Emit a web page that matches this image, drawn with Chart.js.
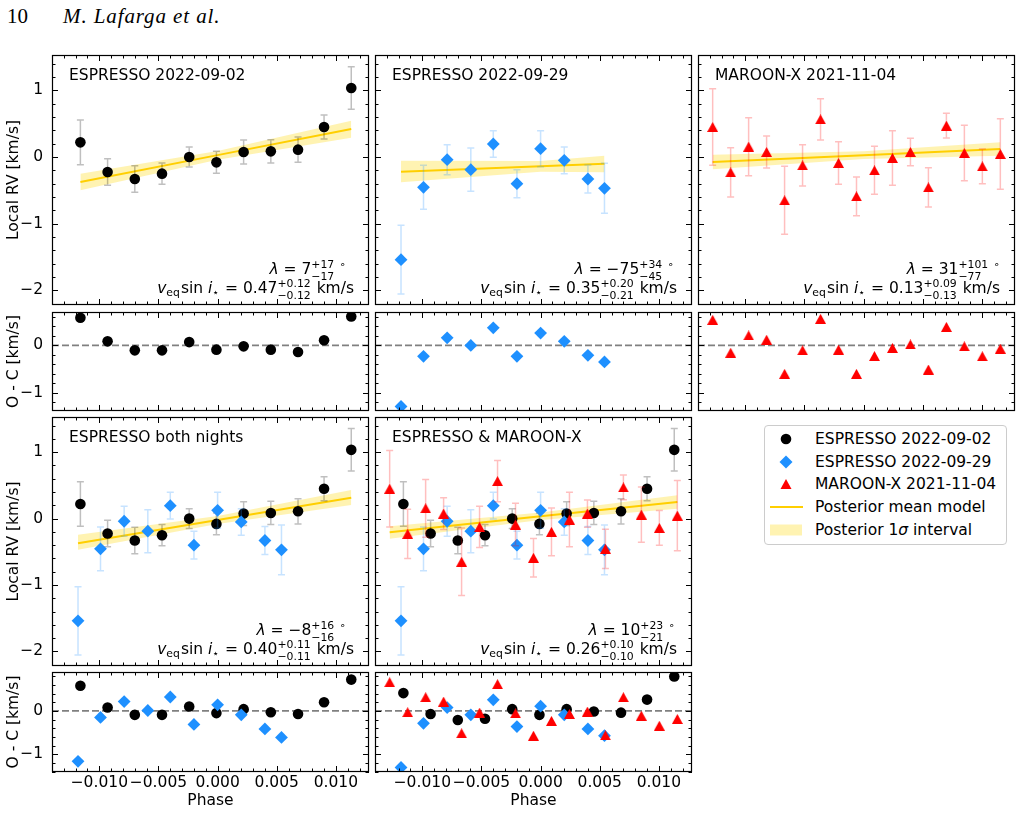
<!DOCTYPE html>
<html lang="en">
<head>
<meta charset="UTF-8">
<title>Local RV fits</title>
<script src="https://cdn.jsdelivr.net/npm/chart.js"></script>
<style>
  body { margin: 0; background: #fff; width: 1021px; height: 813px; position: relative; overflow: hidden; font-family: "DejaVu Sans", sans-serif; }
  canvas { position: absolute; }
  .hdr { position: absolute; top: 4px; font-family: "Liberation Serif", serif; font-size: 21px; line-height: 24px; }
  #legend { position: absolute; left: 764px; top: 425px; width: 241px; height: 118px; border: 1px solid #ccc; border-radius: 4px; }
  .lrow { position: absolute; left: 0; width: 240px; height: 20px; line-height: 20px; font-size: 15.5px; }
  .lrow svg { position: absolute; left: 5px; top: 3px; }
  .lrow span { position: absolute; left: 50px; white-space: nowrap; }
</style>
</head>
<body>
<div class="hdr" style="left:7px">10</div>
<div class="hdr" style="left:63px;font-style:italic;letter-spacing:0.9px">M. Lafarga et al.</div>

<div id="legend">
  <div class="lrow" style="top:3px"><svg width="36" height="14"><circle cx="16" cy="7" r="5.3" fill="#000"/></svg><span>ESPRESSO 2022-09-02</span></div>
  <div class="lrow" style="top:26px"><svg width="36" height="14"><polygon points="16,0.5 22.5,7 16,13.5 9.5,7" fill="#1E90FF"/></svg><span>ESPRESSO 2022-09-29</span></div>
  <div class="lrow" style="top:48px"><svg width="36" height="14"><polygon points="16,2 21.5,12 10.5,12" fill="#FF0000"/></svg><span>MAROON-X 2021-11-04</span></div>
  <div class="lrow" style="top:71px"><svg width="36" height="14"><line x1="0" y1="7" x2="33" y2="7" stroke="#FFCF00" stroke-width="2"/></svg><span>Posterior mean model</span></div>
  <div class="lrow" style="top:94px"><svg width="36" height="14"><rect x="0" y="1.5" width="32" height="11" fill="rgba(255,215,0,0.3)"/></svg><span>Posterior 1<i>σ</i> interval</span></div>
</div>

<script>
// ---------- data ----------
const phaseNight1 = [-0.0116, -0.0093, -0.0070, -0.0047, -0.0024, -0.0001, 0.0022, 0.0045, 0.0068, 0.0090, 0.0113];
const rvNight1    = [0.22, -0.225, -0.33, -0.25, 0.0, -0.08, 0.075, 0.085, 0.11, 0.45, 1.035];
const errNight1   = [0.335, 0.2, 0.2, 0.16, 0.15, 0.165, 0.18, 0.175, 0.19, 0.18, 0.32];

const phaseNight2 = [-0.0118, -0.0099, -0.0079, -0.0059, -0.0040, -0.0020, 0.0000, 0.0020, 0.0040, 0.0054];
const rvNight2    = [-1.54, -0.455, -0.04, -0.19, 0.195, -0.40, 0.125, -0.05, -0.33, -0.47];
const errNight2   = [0.515, 0.33, 0.225, 0.325, 0.2, 0.21, 0.27, 0.2, 0.21, 0.375];

const phaseMaroon = [-0.01276, -0.01124, -0.00972, -0.00820, -0.00668, -0.00516, -0.00364, -0.00212, -0.00060,
                     0.00092, 0.00244, 0.00396, 0.00548, 0.00700, 0.00852, 0.01004, 0.01156];
const rvMaroon    = [0.45, -0.23, 0.155, 0.075, -0.65, -0.125, 0.565, -0.09, -0.59, -0.2, -0.015, 0.075, -0.455, 0.47, 0.06, -0.14, 0.045];
const errMaroon   = [0.575, 0.37, 0.435, 0.24, 0.51, 0.31, 0.31, 0.32, 0.29, 0.36, 0.41, 0.205, 0.295, 0.185, 0.415, 0.26, 0.53];

// residuals (O - C) for each fit
const ocNight1Single = [0.585, 0.085, -0.105, -0.105, 0.07, -0.09, -0.02, -0.09, -0.14, 0.11, 0.61];
const ocNight2Single = [-1.29, -0.23, 0.16, 0.0, 0.37, -0.23, 0.26, 0.085, -0.21, -0.35];
const ocMaroonSingle = [0.54, -0.155, 0.21, 0.12, -0.6, -0.105, 0.56, -0.09, -0.6, -0.225, -0.055, 0.02, -0.51, 0.39, -0.02, -0.23, -0.07];
const ocNight1Both   = [0.58, 0.08, -0.09, -0.09, 0.10, -0.05, 0.04, -0.03, -0.07, 0.2, 0.72];
const ocNight2Both   = [-1.16, -0.15, 0.215, 0.01, 0.32, -0.31, 0.14, -0.09, -0.415, -0.61];
const ocNight1All    = [0.41, -0.07, -0.21, -0.18, 0.04, -0.09, 0.04, -0.015, -0.04, 0.26, 0.79];
const ocNight2All    = [-1.30, -0.285, 0.077, -0.09, 0.254, -0.36, 0.108, -0.09, -0.415, -0.57];
const ocMaroonAll    = [0.66, -0.03, 0.315, 0.215, -0.515, -0.04, 0.615, -0.055, -0.57, -0.23, -0.07, -0.015, -0.56, 0.315, -0.11, -0.34, -0.185];

// posterior model: mean and 1 sigma band at start / centre / end
const fitPhase1 = [-0.0116, 0.0, 0.0113];
const fitMean1  = [-0.375, 0.028, 0.42];
const fitLo1    = [-0.50, -0.04, 0.29];
const fitHi1    = [-0.25, 0.09, 0.545];

const fitPhase2 = [-0.0118, 0.0, 0.0054];
const fitMean2  = [-0.22, -0.137, -0.10];
const fitLo2    = [-0.38, -0.22, -0.23];
const fitHi2    = [-0.055, -0.06, 0.02];

const fitPhase3 = [-0.01276, 0.0, 0.01156];
const fitMean3  = [-0.075, 0.027, 0.12];
const fitLo3    = [-0.185, -0.03, 0.02];
const fitHi3    = [0.035, 0.085, 0.22];

const fitPhaseBoth = [-0.0118, 0.0, 0.0113];
const fitMeanBoth  = [-0.37, -0.02, 0.315];
const fitLoBoth    = [-0.47, -0.08, 0.205];
const fitHiBoth    = [-0.245, 0.04, 0.43];

const fitPhaseAll = [-0.01276, 0.0, 0.01156];
const fitMeanAll  = [-0.205, 0.034, 0.25];
const fitLoAll    = [-0.305, -0.02, 0.15];
const fitHiAll    = [-0.115, 0.09, 0.35];

// axes
const xMin = -0.0140, xMax = 0.0128;
const yMainMin = -2.22, yMainMax = 1.53;
const yRes1Min = -1.385, yRes1Max = 0.705;
const yRes2Min = -1.405, yRes2Max = 0.895;
const xTickVals = [-0.010, -0.005, 0.000, 0.005, 0.010];
const yMainTicks = [-2, -1, 0, 1];
const yResTicks = [-1, 0];

// panel texts
const panelTitles = ['ESPRESSO 2022-09-02', 'ESPRESSO 2022-09-29', 'MAROON-X 2021-11-04', 'ESPRESSO both nights', 'ESPRESSO & MAROON-X'];
const lambdaVals = [['7', '+17', '−17'], ['−75', '+34', '−45'], ['31', '+101', '−77'], ['−8', '+16', '−16'], ['10', '+23', '−21']];
const vsiniVals  = [['0.47', '+0.12', '−0.12'], ['0.35', '+0.20', '−0.21'], ['0.13', '+0.09', '−0.13'], ['0.40', '+0.11', '−0.11'], ['0.26', '+0.10', '−0.10']];
const lambdaRightGap = [22, 17, 14, 22, 16];

// ---------- styling ----------
Chart.defaults.font.family = '"DejaVu Sans", sans-serif';
Chart.defaults.font.size = 15.5;
Chart.defaults.color = '#000';

const FS = 15.5;
const BLUE = '#1E90FF', RED = '#FF0000', GOLD = '#FFCF00', BAND = 'rgba(255,215,0,0.3)';

function triangleImg(color) {
  const c = document.createElement('canvas');
  c.width = 11; c.height = 10;
  const g = c.getContext('2d');
  g.fillStyle = color;
  g.beginPath(); g.moveTo(5.5, 0); g.lineTo(11, 10); g.lineTo(0, 10); g.closePath(); g.fill();
  return c;
}
const triRed = triangleImg(RED);

const pts = (xs, ys) => xs.map((x, i) => ({x: x, y: ys[i]}));

function fitSets(xs, mean, lo, hi) {
  return [
    {data: pts(xs, lo), showLine: true, pointRadius: 0, borderWidth: 0, borderColor: 'rgba(0,0,0,0)', fill: false, order: 10},
    {data: pts(xs, hi), showLine: true, pointRadius: 0, borderWidth: 0, borderColor: 'rgba(0,0,0,0)', fill: '-1', backgroundColor: BAND, order: 9},
    {data: pts(xs, mean), showLine: true, pointRadius: 0, borderColor: GOLD, borderWidth: 2, fill: false, order: 8}
  ];
}

function black(ys, errs) {
  return {data: pts(phaseNight1, ys), pointStyle: 'circle', pointRadius: 5.3, backgroundColor: '#000', borderColor: '#000',
          pointBorderWidth: 0, clip: 0, order: 3, errors: errs, errColor: 'rgba(0,0,0,0.25)'};
}
function blue(ys, errs) {
  return {data: pts(phaseNight2, ys), pointStyle: 'rectRot', pointRadius: 6.4, backgroundColor: BLUE, borderColor: BLUE,
          pointBorderWidth: 0, clip: 0, order: 2, errors: errs, errColor: 'rgba(30,144,255,0.25)'};
}
function red(ys, errs) {
  return {data: pts(phaseMaroon, ys), pointStyle: triRed, pointRadius: 6, backgroundColor: RED, borderColor: RED,
          pointBorderWidth: 0, clip: 0, order: 1, errors: errs, errColor: 'rgba(255,0,0,0.25)'};
}
function zeroLine() {
  return {data: [{x: xMin, y: 0}, {x: xMax, y: 0}], showLine: true, pointRadius: 0, borderColor: '#808080',
          borderWidth: 1.6, borderDash: [7, 3], fill: false, order: 20};
}

// draw a line of mathtext-like text, right aligned
function mathLine(ctx, segs, xRight, base) {
  const ss = FS * 0.7;
  const font = (it, size) => (it ? 'italic ' : '') + size + 'px "DejaVu Sans"';
  const items = segs.map(s => {
    if (s.gap !== undefined) return Object.assign({w: s.gap}, s);
    if (s.t !== undefined) {
      ctx.font = font(s.it, FS);
      return Object.assign({w: ctx.measureText(s.t).width}, s);
    }
    ctx.font = font(false, ss);
    const w = Math.max(s.sup ? ctx.measureText(s.sup).width : 0, s.sub ? ctx.measureText(s.sub).width : 0);
    return Object.assign({w: w + 1}, s);
  });
  let x = xRight - items.reduce((a, s) => a + s.w, 0);
  items.forEach(s => {
    if (s.gap !== undefined) {
      // spacing only
    } else if (s.t !== undefined) {
      ctx.font = font(s.it, FS);
      ctx.fillText(s.t, x, base);
    } else {
      ctx.font = font(false, ss);
      if (s.sup) ctx.fillText(s.sup, x, base - FS * 0.36);
      if (s.sub) ctx.fillText(s.sub, x, base + FS * (s.sup ? 0.38 : 0.22));
    }
    x += s.w;
  });
}

const framePlugin = {
  id: 'frame',
  beforeDatasetDraw(chart, args) {
    const ds = chart.data.datasets[args.index];
    if (!ds.errors) return;
    const {ctx, scales: {x, y}} = chart;
    ctx.save();
    ctx.strokeStyle = ds.errColor;
    ctx.lineWidth = 1.5;
    ds.data.forEach((p, i) => {
      const px = x.getPixelForValue(p.x);
      const y1 = y.getPixelForValue(p.y + ds.errors[i]);
      const y2 = y.getPixelForValue(p.y - ds.errors[i]);
      ctx.beginPath();
      ctx.moveTo(px, y1); ctx.lineTo(px, y2);
      ctx.moveTo(px - 3.5, y1); ctx.lineTo(px + 3.5, y1);
      ctx.moveTo(px - 3.5, y2); ctx.lineTo(px + 3.5, y2);
      ctx.stroke();
    });
    ctx.restore();
  },
  afterDraw(chart, args, o) {
    const {ctx, chartArea: a, scales: {x, y}} = chart;
    ctx.save();
    ctx.strokeStyle = '#000';
    ctx.lineWidth = 1;
    ctx.beginPath();
    // inward ticks on all four sides
    for (let k = -14; k <= 12; k++) {
      const len = k % 5 === 0 ? 6 : 3.5;
      const px = Math.round(x.getPixelForValue(k / 1000)) + 0.5;
      ctx.moveTo(px, a.bottom); ctx.lineTo(px, a.bottom - len);
      ctx.moveTo(px, a.top); ctx.lineTo(px, a.top + len);
    }
    for (let k = Math.ceil(y.min * 5); k <= Math.floor(y.max * 5); k++) {
      const len = k % 5 === 0 ? 6 : 3.5;
      const py = Math.round(y.getPixelForValue(k / 5)) + 0.5;
      ctx.moveTo(a.left, py); ctx.lineTo(a.left + len, py);
      ctx.moveTo(a.right, py); ctx.lineTo(a.right - len, py);
    }
    ctx.stroke();
    ctx.lineWidth = 1.2;
    ctx.strokeRect(a.left + 0.5, a.top + 0.5, a.width - 1, a.height - 1);

    if (o.text !== undefined && o.text !== null) {
      const i = o.text;
      ctx.fillStyle = '#000';
      ctx.textAlign = 'left';
      ctx.textBaseline = 'alphabetic';
      ctx.font = FS + 'px "DejaVu Sans"';
      ctx.fillText(panelTitles[i], a.left + 17, a.top + 25);
      const lv = lambdaVals[i], vv = vsiniVals[i];
      mathLine(ctx, [{t: 'λ', it: true}, {t: ' = ' + lv[0]}, {sup: lv[1], sub: lv[2]}, {gap: 4}, {sup: '∘'}],
               a.right - lambdaRightGap[i], a.bottom - 31);
      mathLine(ctx, [{t: 'v', it: true}, {sub: 'eq'}, {t: 'sin'}, {t: ' i', it: true}, {sub: '⋆'},
                     {t: ' = ' + vv[0]}, {sup: vv[1], sub: vv[2]}, {t: ' km/s'}],
               a.right - 15, a.bottom - 12);
    }
    ctx.restore();
  }
};

const fmtY = v => (v < 0 ? '−' + Math.abs(v) : String(v));
const fmtX = v => (v < 0 ? '−' : '') + Math.abs(v).toFixed(3);

function makeChart(p) {
  const L = p.showY ? 52 : 3, R = 3, T = 3, B = p.showX ? 41 : 3;
  const cv = document.createElement('canvas');
  cv.width = p.w + L + R;
  cv.height = p.h + T + B;
  cv.style.left = (p.left - L) + 'px';
  cv.style.top = (p.top - T) + 'px';
  document.body.appendChild(cv);
  new Chart(cv, {
    type: 'scatter',
    data: {datasets: p.sets},
    options: {
      responsive: false,
      animation: false,
      devicePixelRatio: 1,
      layout: {autoPadding: false, padding: {left: p.showY ? 0 : 3, right: 3, top: 3, bottom: p.showX ? 0 : 3}},
      plugins: {legend: {display: false}, tooltip: {enabled: false}, frame: {text: p.text}},
      scales: {
        x: {
          type: 'linear', min: xMin, max: xMax, display: p.showX,
          grid: {display: false, drawTicks: false}, border: {display: false},
          afterBuildTicks: s => { s.ticks = xTickVals.map(v => ({value: v})); },
          afterFit: s => {
            s.height = p.showX ? 41 : 0;
            s.paddingLeft = 0; s.paddingRight = 0;
          },
          ticks: {padding: 2, autoSkip: false, maxRotation: 0, callback: v => fmtX(v)},
          title: {display: true, text: 'Phase', padding: {top: 0, bottom: 3}}
        },
        y: {
          type: 'linear', min: p.yMin, max: p.yMax, display: p.showY,
          grid: {display: false, drawTicks: false}, border: {display: false},
          afterBuildTicks: s => { s.ticks = p.yTicks.map(v => ({value: v})); },
          afterFit: s => {
            s.width = p.showY ? 52 : 0;
            s.paddingTop = 0; s.paddingBottom = 0;
          },
          ticks: {padding: 9, autoSkip: false, callback: v => fmtY(v)},
          title: {display: !!p.yTitle, text: p.yTitle || '', padding: {top: 5, bottom: 0}}
        }
      }
    },
    plugins: [framePlugin]
  });
}

// ---------- panels ----------
const colLeft = [52, 375, 698], colW = 317;

makeChart({left: colLeft[0], top: 55, w: colW, h: 250, yMin: yMainMin, yMax: yMainMax, yTicks: yMainTicks,
  showY: true, yTitle: 'Local RV [km/s]', showX: false, text: 0,
  sets: [...fitSets(fitPhase1, fitMean1, fitLo1, fitHi1), black(rvNight1, errNight1)]});
makeChart({left: colLeft[1], top: 55, w: colW, h: 250, yMin: yMainMin, yMax: yMainMax, yTicks: yMainTicks,
  showY: false, showX: false, text: 1,
  sets: [...fitSets(fitPhase2, fitMean2, fitLo2, fitHi2), blue(rvNight2, errNight2)]});
makeChart({left: colLeft[2], top: 55, w: colW, h: 250, yMin: yMainMin, yMax: yMainMax, yTicks: yMainTicks,
  showY: false, showX: false, text: 2,
  sets: [...fitSets(fitPhase3, fitMean3, fitLo3, fitHi3), red(rvMaroon, errMaroon)]});

makeChart({left: colLeft[0], top: 312, w: colW, h: 99, yMin: yRes1Min, yMax: yRes1Max, yTicks: yResTicks,
  showY: true, yTitle: 'O - C [km/s]', showX: false, text: null,
  sets: [zeroLine(), black(ocNight1Single)]});
makeChart({left: colLeft[1], top: 312, w: colW, h: 99, yMin: yRes1Min, yMax: yRes1Max, yTicks: yResTicks,
  showY: false, showX: false, text: null,
  sets: [zeroLine(), blue(ocNight2Single)]});
makeChart({left: colLeft[2], top: 312, w: colW, h: 99, yMin: yRes1Min, yMax: yRes1Max, yTicks: yResTicks,
  showY: false, showX: false, text: null,
  sets: [zeroLine(), red(ocMaroonSingle)]});

makeChart({left: colLeft[0], top: 417, w: colW, h: 249, yMin: yMainMin, yMax: yMainMax, yTicks: yMainTicks,
  showY: true, yTitle: 'Local RV [km/s]', showX: false, text: 3,
  sets: [...fitSets(fitPhaseBoth, fitMeanBoth, fitLoBoth, fitHiBoth), black(rvNight1, errNight1), blue(rvNight2, errNight2)]});
makeChart({left: colLeft[1], top: 417, w: colW, h: 249, yMin: yMainMin, yMax: yMainMax, yTicks: yMainTicks,
  showY: false, showX: false, text: 4,
  sets: [...fitSets(fitPhaseAll, fitMeanAll, fitLoAll, fitHiAll), black(rvNight1, errNight1), blue(rvNight2, errNight2), red(rvMaroon, errMaroon)]});

makeChart({left: colLeft[0], top: 672, w: colW, h: 100, yMin: yRes2Min, yMax: yRes2Max, yTicks: yResTicks,
  showY: true, yTitle: 'O - C [km/s]', showX: true, text: null,
  sets: [zeroLine(), black(ocNight1Both), blue(ocNight2Both)]});
makeChart({left: colLeft[1], top: 672, w: colW, h: 100, yMin: yRes2Min, yMax: yRes2Max, yTicks: yResTicks,
  showY: false, showX: true, text: null,
  sets: [zeroLine(), black(ocNight1All), blue(ocNight2All), red(ocMaroonAll)]});
</script>
</body>
</html>
